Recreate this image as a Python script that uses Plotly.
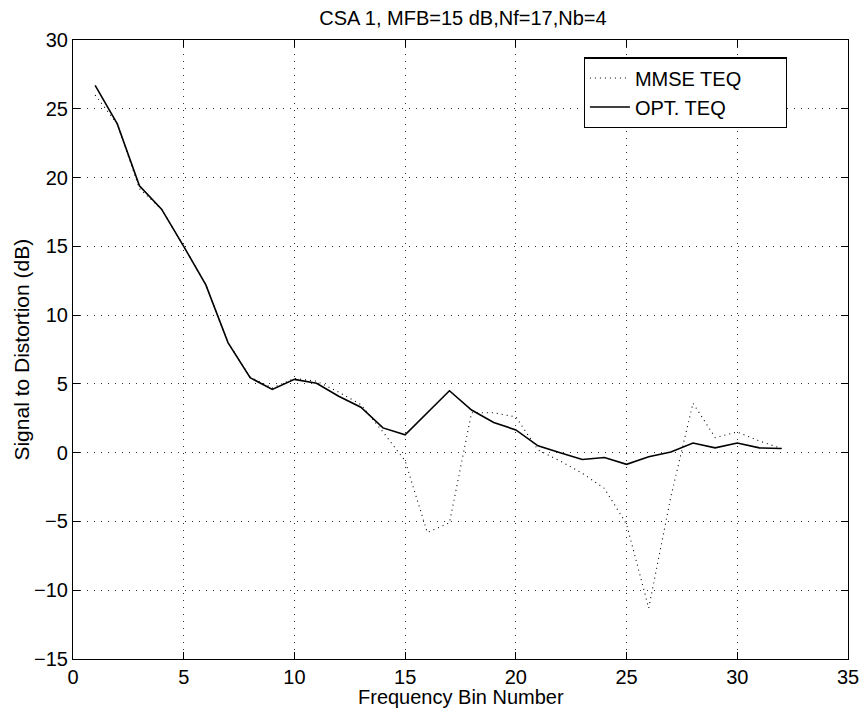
import plotly.graph_objects as go

bins = list(range(1, 33))
opt_teq = [26.7, 23.9, 19.4, 17.7, 15.0, 12.2, 8.0, 5.45, 4.6, 5.33, 5.05, 4.1,
           3.3, 1.8, 1.3, 2.9, 4.5, 3.1, 2.2, 1.65, 0.5, 0.0, -0.5, -0.35,
           -0.85, -0.3, 0.05, 0.7, 0.35, 0.7, 0.35, 0.3]
mmse_teq = [26.0, 23.9, 19.2, 17.7, 15.0, 12.2, 8.0, 5.5, 4.7, 5.4, 5.2, 4.4,
            3.5, 1.5, -0.6, -5.8, -5.1, 2.9, 2.9, 2.6, 0.2, -0.6, -1.5, -2.6,
            -5.2, -11.3, -3.2, 3.6, 1.1, 1.5, 0.85, 0.3]
x_ticks = [0, 5, 10, 15, 20, 25, 30, 35]
y_ticks = [-15, -10, -5, 0, 5, 10, 15, 20, 25, 30]

font = "Liberation Sans, Arial, Helvetica, sans-serif"
pad = "\u00a0" * 7

fig = go.Figure()
fig.add_trace(go.Scatter(x=bins, y=mmse_teq, mode="lines", name="MMSE TEQ" + pad,
                         line=dict(color="black", width=1.1, dash="1px,4px")))
fig.add_trace(go.Scatter(x=bins, y=opt_teq, mode="lines", name="OPT. TEQ",
                         line=dict(color="black", width=1.6)))

axis_common = dict(
    showline=True, linecolor="black", linewidth=1.2, mirror="ticks",
    ticks="inside", ticklen=7, tickcolor="black", tickwidth=1.2,
    showgrid=True, gridcolor="#333333", griddash="1px,6px", gridwidth=1,
    zeroline=False, automargin=False,
    tickfont=dict(size=20, color="black", family=font),
)

fig.update_xaxes(range=[0, 35], tickvals=x_ticks,
                 ticktext=[str(v) for v in x_ticks], **axis_common)
fig.update_yaxes(range=[-15, 30], tickvals=y_ticks,
                 ticktext=[str(v).replace("-", "\u2212") for v in y_ticks],
                 **axis_common)

fig.add_annotation(text="Frequency Bin Number", xref="paper", yref="paper",
                   x=0.5, y=-0.0614, xanchor="center", yanchor="middle",
                   showarrow=False,
                   font=dict(size=20, color="black", family=font))
fig.add_annotation(text="Signal to Distortion (dB)", xref="paper", yref="paper",
                   x=-0.067, y=0.5, xanchor="center", yanchor="middle",
                   textangle=-90, showarrow=False,
                   font=dict(size=21, color="black", family=font))

fig.update_layout(
    width=862, height=712,
    margin=dict(l=73, r=14, t=40, b=53),
    paper_bgcolor="white", plot_bgcolor="white",
    title=dict(text="CSA 1, MFB=15 dB,Nf=17,Nb=4", x=0.537, xanchor="center",
               y=0.985, yanchor="top",
               font=dict(size=20, color="black", family=font)),
    font=dict(family=font, color="black"),
    legend=dict(x=0.659, y=0.972, xanchor="left", yanchor="top",
                bgcolor="white", bordercolor="black", borderwidth=1.2,
                font=dict(size=20, color="black", family=font),
                tracegroupgap=0, itemwidth=40),
    showlegend=True,
)

fig.write_html("out.html",
               config={"displayModeBar": False},
               post_script="document.body.style.margin='0';"
                           "document.body.style.padding='0';"
                           "document.documentElement.style.overflow='hidden';")
